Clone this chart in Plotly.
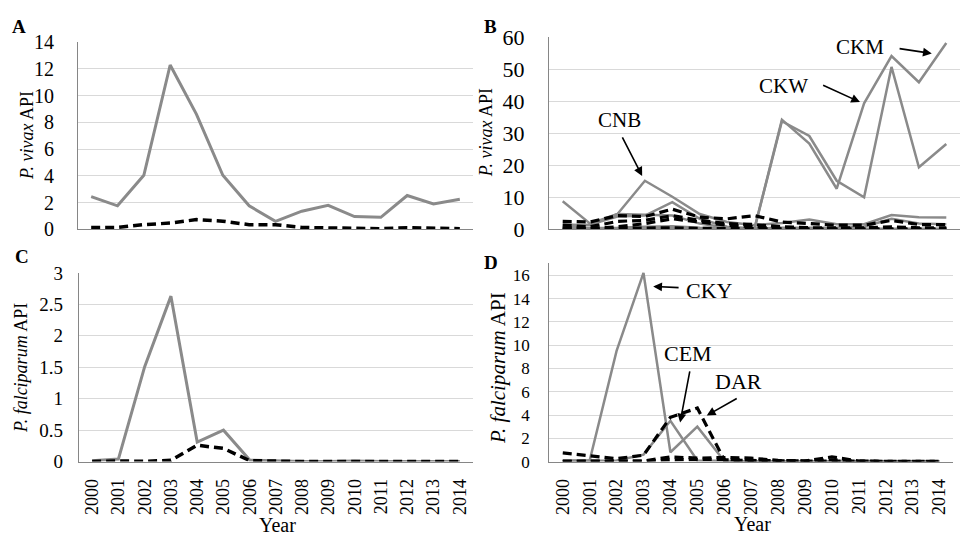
import plotly.graph_objects as go

years = list(range(2000, 2015))
year_labels = [str(y) for y in years]

# Panel A: P. vivax API
A_solid = [2.45, 1.76, 4.05, 12.3, 8.6, 4.05, 1.76, 0.6, 1.36, 1.8, 0.96, 0.9, 2.53, 1.9, 2.25]
A_dashed = [0.14, 0.14, 0.35, 0.47, 0.73, 0.61, 0.35, 0.35, 0.14, 0.1, 0.05, 0.05, 0.12, 0.1, 0.05]

# Panel B: P. vivax API by district
B_CNB = [8.8, 1.8, 4.8, 15.2, 10.2, 4.8, 2.3, 1.3, 2.0, 3.1, 1.6, 1.6, 4.5, 3.8, 3.7]
B_G2 = [0.5, 1.5, 4.0, 4.3, 8.5, 3.3, 0.8, 0.3, 0.5, 0.5, 0.5, 0.8, 3.3, 1.8, 1.6]
B_G3 = [1.5, 1.3, 4.8, 4.5, 4.3, 1.8, 0.5, 0.2, 0.2, 0.2, 0.2, 0.2, 0.3, 0.2, 0.2]
B_CKW = [0.3, 0.3, 0.5, 0.8, 1.0, 0.5, 0.2, 0.3, 34.3, 26.8, 12.7, 39.4, 54.2, 46.0, 58.3]
B_CKM = [0.2, 0.2, 0.3, 0.5, 0.6, 0.3, 0.1, 0.2, 33.8, 29.2, 15.2, 10.0, 50.8, 19.4, 26.7]
B_D1 = [2.5, 2.3, 4.3, 4.0, 6.3, 3.8, 3.3, 4.3, 2.3, 1.8, 1.3, 1.3, 2.8, 1.5, 1.5]
B_D2 = [1.3, 0.8, 2.5, 2.8, 4.3, 2.8, 1.8, 1.5, 0.8, 0.5, 0.5, 0.5, 0.8, 0.5, 0.5]
B_D3 = [0.5, 0.3, 0.8, 1.8, 3.3, 2.3, 1.3, 0.8, 0.3, 0.2, 0.2, 0.2, 0.3, 0.2, 0.2]
B_D4 = [0.1, 0.1, 0.2, 0.4, 0.5, 0.3, 0.2, 0.1, 0.05, 0.05, 0.05, 0.05, 0.05, 0.05, 0.05]

# Panel C: P. falciparum API
C_solid = [0.015, 0.04, 1.51, 2.63, 0.31, 0.5, 0.025, 0.01, 0, 0, 0.01, 0, 0, 0, 0]
C_dashed = [0, 0.01, 0.005, 0.02, 0.26, 0.21, 0.015, 0.005, 0, 0, 0, 0, 0, 0, 0]

# Panel D: P. falciparum API by district
D_CKY = [0.1, 0.1, 9.5, 16.2, 0.8, 3.0, 0.05, 0, 0, 0, 0, 0, 0, 0, 0]
D_CEM = [0.05, 0.05, 0.1, 0.6, 3.5, 0.1, 0.05, 0, 0, 0, 0, 0, 0, 0, 0]
D_DAR = [0.75, 0.5, 0.25, 0.55, 3.8, 4.6, 0.15, 0.1, 0.05, 0.05, 0.05, 0.02, 0.02, 0.02, 0.02]
D_d2 = [0.05, 0.05, 0.05, 0.05, 0.4, 0.3, 0.35, 0.3, 0.1, 0.05, 0.4, 0.05, 0.02, 0.02, 0.02]
D_d3 = [0, 0, 0, 0.05, 0.15, 0.15, 0.2, 0.1, 0.05, 0.05, 0.15, 0.02, 0, 0, 0]

GRAY = "#8a8a8a"
FONT = "Liberation Serif"

fig = go.Figure()

def solid(y, xa, ya, w=3):
    fig.add_trace(go.Scatter(x=years, y=y, mode="lines", xaxis=xa, yaxis=ya,
                             line=dict(color=GRAY, width=w), showlegend=False, hoverinfo="skip"))

def dashed(y, xa, ya, w=3.5):
    fig.add_trace(go.Scatter(x=years, y=y, mode="lines", xaxis=xa, yaxis=ya,
                             line=dict(color="black", width=w, dash="9px,5px"),
                             showlegend=False, hoverinfo="skip"))

solid(A_solid, "x", "y")
dashed(A_dashed, "x", "y")

for s in [B_G3, B_G2, B_CKM, B_CKW, B_CNB]:
    solid(s, "x2", "y2", 2.5)
for s in [B_D4, B_D3, B_D2, B_D1]:
    dashed(s, "x2", "y2", 3.2)

solid(C_solid, "x3", "y3")
dashed(C_dashed, "x3", "y3")

for s in [D_CEM, D_CKY]:
    solid(s, "x4", "y4", 2.5)
for s in [D_d3, D_d2, D_DAR]:
    dashed(s, "x4", "y4", 3.2)

W, H = 964, 550

def xdom(l, r):
    return [l / W, r / W]

def ydom(b, t):
    return [1 - b / H, 1 - t / H]

def xaxis(dom, anchor, labels, size=18):
    return dict(domain=dom, anchor=anchor, range=[1999.5, 2014.5],
                tickmode="array", tickvals=years, ticktext=year_labels,
                showticklabels=labels, tickangle=-90, ticks="",
                tickfont=dict(family=FONT, size=size, color="black"),
                ticklabelstandoff=9,
                showgrid=False, zeroline=False, showline=True,
                linecolor="#868686", linewidth=1.2)

def yaxis(dom, anchor, rng, dtick, size, standoff):
    return dict(domain=dom, anchor=anchor, range=rng, dtick=dtick,
                tickfont=dict(family=FONT, size=size, color="black"),
                ticklabelstandoff=standoff, ticks="",
                showgrid=True, gridcolor="#d9d9d9", gridwidth=1,
                zeroline=False, showline=True, linecolor="#868686", linewidth=1.2)

fig.update_layout(
    width=W, height=H, margin=dict(l=0, r=0, t=0, b=0),
    font=dict(family=FONT, color="black"),
    paper_bgcolor="white", plot_bgcolor="white",
    xaxis=xaxis(xdom(78, 473), "y", False),
    yaxis=yaxis(ydom(227.7, 31.7), "x", [0, 14], 2, 20, 19),
    xaxis2=xaxis(xdom(549, 960), "y2", False),
    yaxis2=yaxis(ydom(227.7, 26.7), "x2", [0, 60], 10, 22, 19),
    xaxis3=xaxis(xdom(79, 473), "y3", True, 18),
    yaxis3=yaxis(ydom(471, 273.3), "x3", [0, 3], 0.5, 19, 11),
    xaxis4=xaxis(xdom(549.3, 953), "y4", True, 18),
    yaxis4=yaxis(ydom(471, 263), "x4", [0, 17.05], 2, 17, 15),
)

ann = []
def label(text, x, y, xr, yr, size=20):
    ann.append(dict(text=text, x=x, y=y, xref=xr, yref=yr, showarrow=False,
                    xanchor="center", yanchor="middle",
                    font=dict(family=FONT, size=size, color="black")))

def arrow(x0, y0, x1, y1, xr, yr):
    ann.append(dict(text="", x=x1, y=y1, ax=x0, ay=y0, xref=xr, yref=yr,
                    axref=xr, ayref=yr, showarrow=True, arrowhead=2,
                    arrowsize=1.1, arrowwidth=1.6, arrowcolor="black"))

def paper_text(text, x, y, size, angle=0):
    ann.append(dict(text=text, x=x / W, y=1 - y / H, xref="paper", yref="paper",
                    xanchor="center", yanchor="middle", textangle=angle,
                    showarrow=False, font=dict(family=FONT, size=size, color="black")))

# Panel B annotations
label("CNB", 2002.09, 34.2, "x2", "y2", 21)
arrow(2002.15, 29.2, 2002.9, 16.7, "x2", "y2")
label("CKW", 2008.04, 44.7, "x2", "y2", 21)
arrow(2009.45, 45.3, 2010.85, 39.8, "x2", "y2")
label("CKM", 2010.85, 56.9, "x2", "y2", 21)
arrow(2012.24, 56.6, 2013.47, 55.0, "x2", "y2")

# Panel D annotations
label("CKY", 2005.47, 14.7, "x4", "y4", 22)
arrow(2004.36, 14.93, 2003.36, 15.04, "x4", "y4")
label("CEM", 2004.67, 9.24, "x4", "y4", 22)
arrow(2004.73, 7.87, 2004.36, 3.36, "x4", "y4")
label("DAR", 2006.52, 6.9, "x4", "y4", 22)
arrow(2006.52, 5.49, 2005.35, 3.96, "x4", "y4")

# Panel letters
for t, x, y in [("A", 19, 15), ("B", 490, 15), ("C", 22, 256), ("D", 491, 262)]:
    paper_text("<b>" + t + "</b>", x, y, 19)

# Axis titles
paper_text("<i>P. vivax</i> API", 27, 130, 18, -90)
paper_text("<i>P. vivax</i> API", 486, 127, 18, -90)
paper_text("<i>P. falciparum</i> API", 21, 373, 18, -90)
paper_text("<i>P. falciparum</i> API", 498, 373, 21, -90)
paper_text("Year", 277, 537, 20)
paper_text("Year", 752, 536, 20)

fig.update_layout(annotations=ann)
fig.write_html("out.html")
